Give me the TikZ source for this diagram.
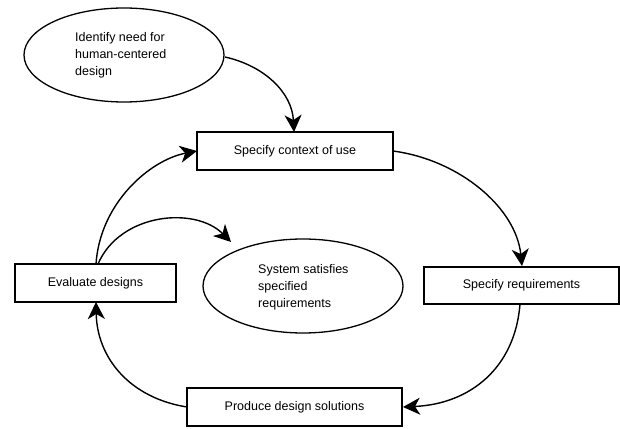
\documentclass[tikz,border=0pt]{standalone}
\usepackage{fontspec}
\setmainfont{Liberation Sans}
\usetikzlibrary{shapes.geometric,arrows.meta}
\begin{document}
\begin{tikzpicture}[x=1pt,y=1pt,
  every node/.style={font=\fontsize{12.5}{17}\selectfont},
  boxnode/.style={draw,line width=1.3pt,rectangle,inner sep=0pt,minimum height=38pt},
  ellnode/.style={draw,line width=1.3pt,ellipse,inner sep=0pt,minimum width=200pt,minimum height=94pt},
  txt/.style={align=left,anchor=west,inner sep=0pt},
  conn/.style={line width=1.4pt,-{Stealth[length=17pt,width=17pt,inset=5pt]}}]
\useasboundingbox (0,0) rectangle (620,428);
\node[ellnode] (e1) at (124,373) {};
\node[txt] (t1) at (75,373) {Identify need for\\human-centered\\design};
\node[boxnode,minimum width=196pt] (ctx) at (295,277) {Specify context of use};
\node[boxnode,minimum width=195pt,minimum height=37pt] (req) at (521.5,142.5) {Specify requirements};
\node[boxnode,minimum width=161pt] (eval) at (95.5,145) {Evaluate designs};
\node[boxnode,minimum width=215pt] (prod) at (294.5,21) {Produce design solutions};
\node[ellnode] (e2) at (303,142) {};
\node[txt] (t2) at (258,141) {System satisfies\\specified\\requirements};
\coordinate (a1s) at (225,371);
\coordinate (a1e) at (294,296);
\draw[conn] (a1s) .. controls (265,362) and (292,335) .. (a1e);
\coordinate (a2s) at (393,277);
\coordinate (a2e) at (522,162);
\draw[conn] (a2s) .. controls (460,268) and (516,220) .. (a2e);
\coordinate (a3s) at (520,124);
\coordinate (a3e) at (403,21);
\draw[conn] (a3s) .. controls (515,60) and (470,24) .. (a3e);
\coordinate (a4s) at (187,21);
\coordinate (a4e) at (96,126);
\draw[conn] (a4s) .. controls (130,30) and (97,70) .. (a4e);
\coordinate (a5s) at (96,164);
\coordinate (a5e) at (197,277);
\draw[conn] (a5s) .. controls (100,225) and (150,268) .. (a5e);
\coordinate (a6s) at (98,164);
\coordinate (a6e) at (231,186);
\draw[conn] (a6s) .. controls (120,215) and (195,222) .. (a6e);
\end{tikzpicture}
\end{document}
